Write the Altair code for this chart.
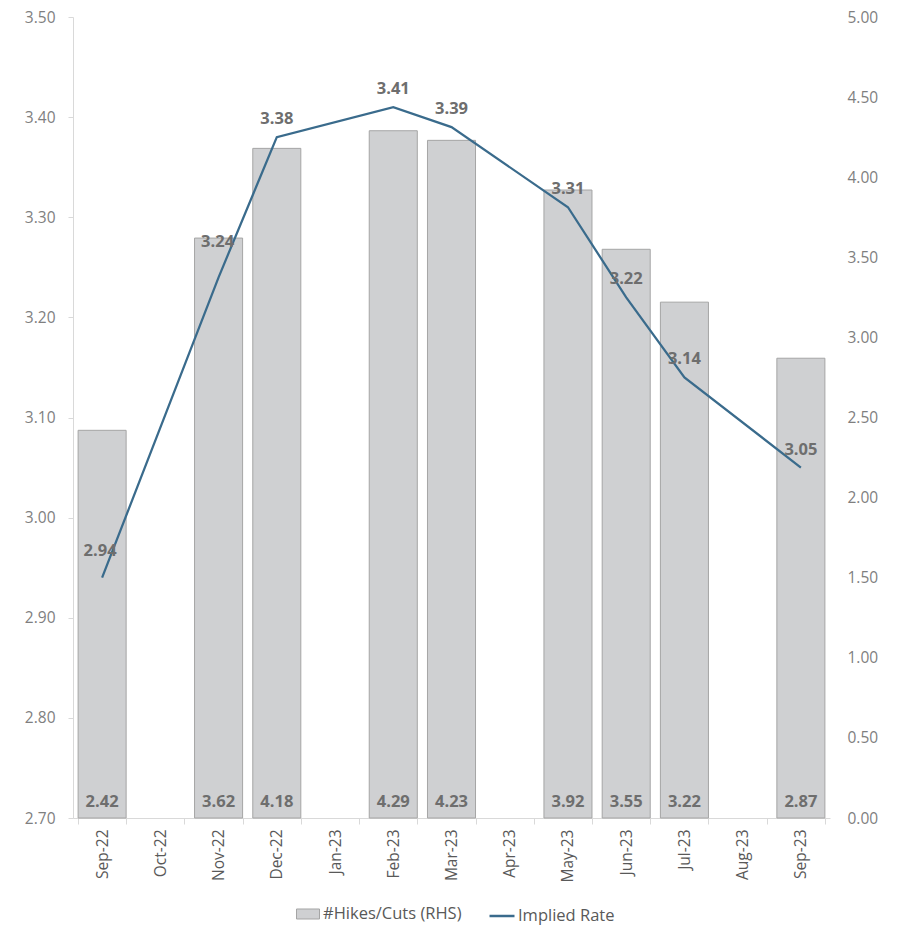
import altair as alt
import pandas as pd

months_all = ["Sep-22", "Oct-22", "Nov-22", "Dec-22", "Jan-23", "Feb-23", "Mar-23",
              "Apr-23", "May-23", "Jun-23", "Jul-23", "Aug-23", "Sep-23"]
months = ["Sep-22", "Nov-22", "Dec-22", "Feb-23", "Mar-23", "May-23", "Jun-23", "Jul-23", "Sep-23"]
hikes = [2.42, 3.62, 4.18, 4.29, 4.23, 3.92, 3.55, 3.22, 2.87]
rate = [2.94, 3.24, 3.38, 3.41, 3.39, 3.31, 3.22, 3.14, 3.05]

df = pd.DataFrame({"month": months, "hikes": hikes, "rate": rate,
                   "bar_series": "#Hikes/Cuts (RHS)", "line_series": "Implied Rate"})

FONT = "Open Sans"
BAR_FILL = "#CFD0D2"
BAR_STROKE = "#A5A5A5"
LINE_COL = "#3A6B8C"
LBL = "#6E6E6E"
AX = "#7F7F7F"

x = alt.X("month:N", sort=months_all,
          scale=alt.Scale(domain=months_all, paddingInner=0.175, paddingOuter=0.0875),
          axis=alt.Axis(title=None, labelAngle=-90, labelFontSize=15.5, labelColor="#595959",
                        labelFont=FONT, domainColor="#D9D9D9", tickColor="#D9D9D9",
                        tickBand="extent", tickSize=6, labelPadding=5, grid=False))

right_scale = alt.Scale(domain=[0, 5], nice=False, zero=True)
left_scale = alt.Scale(domain=[2.7, 3.5], nice=False, zero=False)

base = alt.Chart(df)

bars = base.mark_bar(fill=BAR_FILL, stroke=BAR_STROKE, strokeWidth=1).encode(
    x=x,
    y=alt.Y("hikes:Q", scale=right_scale,
            axis=alt.Axis(orient="right", title=None, format=".2f", values=[i * 0.5 for i in range(11)],
                          labelFontSize=15.5, labelColor=AX, labelFont=FONT, domain=False,
                          ticks=False, tickSize=0, labelPadding=17, grid=False, labelAlign="left")),
    fill=alt.Fill("bar_series:N", scale=alt.Scale(range=[BAR_FILL]),
                  legend=alt.Legend(title=None, orient="none", legendX=223, legendY=885,
                                    symbolType="M-1,-0.435H1V0.435H-1Z", symbolSize=529,
                                    symbolStrokeColor=BAR_STROKE, symbolStrokeWidth=1,
                                    labelFontSize=16.5, labelColor="#595959", labelFont=FONT,
                                    labelOffset=3)),
)

bar_text = base.transform_calculate(base0="0").mark_text(
    font=FONT, fontSize=16.5, fontWeight="bold", color=LBL, baseline="alphabetic", dy=-11
).encode(
    x=alt.X("month:N", sort=months_all),
    y=alt.Y("base0:Q", scale=right_scale, axis=None),
    text=alt.Text("hikes:Q", format=".2f"),
)

line = base.mark_line(strokeWidth=2.25).encode(
    x=alt.X("month:N", sort=months_all),
    y=alt.Y("rate:Q", scale=left_scale,
            axis=alt.Axis(orient="left", title=None, format=".2f", values=[2.7 + i * 0.1 for i in range(9)],
                          labelFontSize=15.5, labelColor=AX, labelFont=FONT,
                          domainColor="#D9D9D9", tickColor="#D9D9D9", tickSize=5,
                          labelPadding=13, grid=False)),
    stroke=alt.Stroke("line_series:N", scale=alt.Scale(range=[LINE_COL]),
                      legend=alt.Legend(title=None, orient="none", legendX=415, legendY=885,
                                        symbolType="stroke", symbolSize=625, symbolStrokeWidth=2.5,
                                        labelFontSize=16.5, labelColor="#595959", labelFont=FONT,
                                        labelOffset=2)),
)


def rate_labels(filter_pred, dy, dx=0):
    return base.transform_filter(filter_pred).mark_text(
        font=FONT, fontSize=16.5, fontWeight="bold", color=LBL, baseline="middle", dy=dy, dx=dx
    ).encode(
        x=alt.X("month:N", sort=months_all),
        y=alt.Y("rate:Q", scale=left_scale, axis=None),
        text=alt.Text("rate:Q", format=".2f"),
    )


line_text_main = rate_labels(~alt.FieldOneOfPredicate(field="month", oneOf=["Sep-22", "Nov-22"]), -18)
line_text_sep = rate_labels(alt.FieldEqualPredicate(field="month", equal="Sep-22"), -27, -2)
line_text_nov = rate_labels(alt.FieldEqualPredicate(field="month", equal="Nov-22"), -35, -1)

chart = alt.layer(bars, bar_text, line, line_text_main, line_text_sep, line_text_nov).resolve_scale(
    y="independent", fill="independent", stroke="independent"
).properties(
    width=757, height=801,
    autosize=alt.AutoSizeParams(type="none"),
    padding={"left": 65, "top": 9, "right": 59, "bottom": 107},
).configure(background="white", view=alt.ViewConfig(stroke=None))

chart.save("out.html", embed_options={"renderer": "svg", "actions": False})
